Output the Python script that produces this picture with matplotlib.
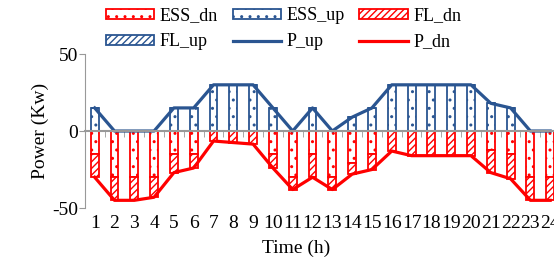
import numpy as np
import matplotlib
matplotlib.use("Agg")
import matplotlib.pyplot as plt

plt.rcParams['font.family'] = ['Liberation Serif', 'DejaVu Serif']
plt.rcParams['axes.unicode_minus'] = False
plt.rcParams['hatch.linewidth'] = 1.0

hours = list(range(1, 25))
ess_up = [15, 0, 0, 0, 15, 15, 30, 30, 30, 15, 0, 15, 0, 9, 15, 30, 30, 30, 30, 30, 18, 15, 0, 0]
fl_up = [0] * 24
ess_dn = [15, 30, 30, 30, 15, 15, 0, 0, 0, 15, 30, 15, 30, 21, 15, 0, 0, 0, 0, 0, 12, 15, 30, 30]
fl_dn = [15, 15, 15, 13, 12, 9, 6.5, 7.5, 8.5, 9, 8, 15, 8, 7, 10, 13, 16, 16, 16, 16, 15, 16, 15, 15]
p_up = [a + b for a, b in zip(ess_up, fl_up)]
p_dn = [-(a + b) for a, b in zip(ess_dn, fl_dn)]

blue = '#2A5591'
red = '#FF0000'

fig = plt.figure(figsize=(5.54, 2.61), dpi=100)
ax = fig.add_axes([0.153, 0.203, 0.858, 0.59])

x = np.array(hours)
w = 0.4
ess_dn_neg = -np.array(ess_dn)
fl_dn_neg = -np.array(fl_dn)

# stacked bars: ESS first, FL on top of it
b1 = ax.bar(x, ess_dn_neg, w, color='white', edgecolor=red, hatch='..', lw=1.3, label='ESS_dn')
b2 = ax.bar(x, ess_up, w, color='white', edgecolor=blue, hatch='..', lw=1.3, label='ESS_up')
b3 = ax.bar(x, fl_dn_neg, w, bottom=ess_dn_neg, color='white', edgecolor=red, hatch='/////', lw=1.3, label='FL_dn')
b4 = ax.bar(x, fl_up, w, bottom=ess_up, color='white', edgecolor=blue, hatch='/////', lw=1.3, label='FL_up')
l1, = ax.plot(x, p_up, color=blue, lw=2.3, label='P_up')
l2, = ax.plot(x, p_dn, color=red, lw=2.3, label='P_dn')

ax.set_xlim(0.5, 24.5)
ax.set_ylim(-50, 50)
ax.set_yticks([-50, 0, 50])

for s in ['top', 'right']:
    ax.spines[s].set_visible(False)
ax.spines['left'].set_color('#999999')
ax.spines['bottom'].set_position(('data', 0))
ax.spines['bottom'].set_color('#999999')
ax.spines['bottom'].set_linewidth(1.5)
ax.set_xticks(x)
ax.set_xticks(np.arange(0.5, 25, 1), minor=True)
ax.tick_params(axis='x', which='major', length=0, labelbottom=False)
ax.tick_params(axis='x', which='minor', length=4, color='#999999')
ax.tick_params(axis='y', colors='#999999', labelcolor='black', labelsize=14, length=4, pad=1)

# hour labels sit below the plot area, not on the zero line
sec = ax.secondary_xaxis(0)
sec.set_xticks(x)
sec.set_xticklabels([str(h) for h in hours])
sec.tick_params(length=0, labelsize=14, pad=5)
sec.spines['bottom'].set_visible(False)
fig.text(0.534, 0.05, 'Time (h)', fontsize=14, ha='center', va='center')
ax.set_ylabel('Power (Kw)', fontsize=14, labelpad=2)

handles = [b1, b4, b2, l1, b3, l2]
fig.legend(handles=handles, labels=[h.get_label() for h in handles], ncol=3,
           loc='upper center', bbox_to_anchor=(0.512, 1.035), frameon=False, fontsize=13,
           handlelength=2.7, handleheight=0.45, columnspacing=0.8, handletextpad=0.3,
           labelspacing=0.5)

fig.savefig('out.png', dpi=100)
